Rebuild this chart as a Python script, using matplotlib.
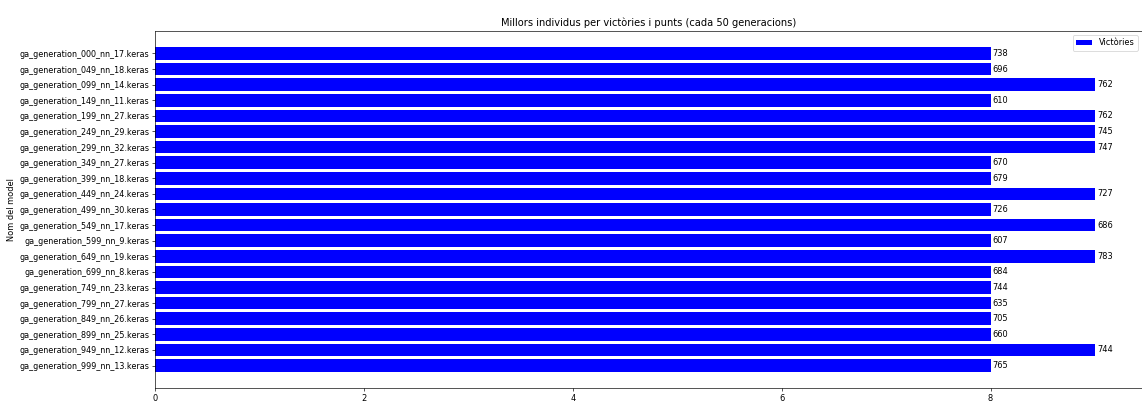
import numpy as np
import matplotlib.pyplot as plt

models = [
    "ga_generation_000_nn_17.keras", "ga_generation_049_nn_18.keras",
    "ga_generation_099_nn_14.keras", "ga_generation_149_nn_11.keras",
    "ga_generation_199_nn_27.keras", "ga_generation_249_nn_29.keras",
    "ga_generation_299_nn_32.keras", "ga_generation_349_nn_27.keras",
    "ga_generation_399_nn_18.keras", "ga_generation_449_nn_24.keras",
    "ga_generation_499_nn_30.keras", "ga_generation_549_nn_17.keras",
    "ga_generation_599_nn_9.keras", "ga_generation_649_nn_19.keras",
    "ga_generation_699_nn_8.keras", "ga_generation_749_nn_23.keras",
    "ga_generation_799_nn_27.keras", "ga_generation_849_nn_26.keras",
    "ga_generation_899_nn_25.keras", "ga_generation_949_nn_12.keras",
    "ga_generation_999_nn_13.keras",
]
victories = [8, 8, 9, 8, 9, 9, 9, 8, 8, 9, 8, 9, 8, 9, 8, 8, 8, 8, 8, 9, 8]
points = [738, 696, 762, 610, 762, 745, 747, 670, 679, 727, 726,
          686, 607, 783, 684, 744, 635, 705, 660, 744, 765]

# reference looks like a big figure shrunk down, so draw at a low dpi
DPI = 59
fig = plt.figure(figsize=(1142 / DPI, 405 / DPI), dpi=DPI)
ax = fig.add_axes([155 / 1142, 1 - 388 / 405, 1 - 155 / 1142, (388 - 31) / 405])

y = np.arange(len(models))
ax.barh(y, victories, color='blue', label='Victòries')
ax.set_yticks(y)
ax.set_yticklabels(models, fontsize=9.7)
ax.invert_yaxis()

for yi, v, p in zip(y, victories, points):
    ax.text(v + 0.02, yi, str(p), va='center', ha='left')

ax.set_xlabel('Victòries')
ax.set_ylabel('Nom del model')
ax.set_title('Millors individus per victòries i punts (cada 50 generacions)')
ax.legend(loc='upper right')

fig.savefig('out.png', dpi=DPI)
